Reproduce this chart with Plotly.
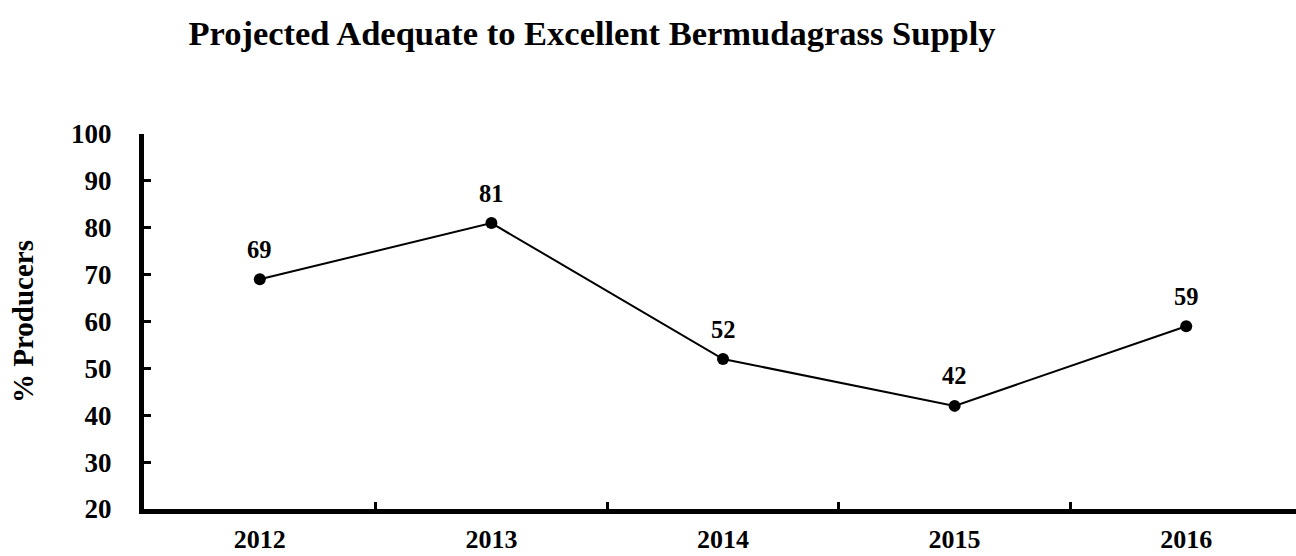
import plotly.graph_objects as go

years = ["2012", "2013", "2014", "2015", "2016"]
producers_pct = [69, 81, 52, 42, 59]
y_ticks = [20, 30, 40, 50, 60, 70, 80, 90, 100]

FONT = "Liberation Serif, Times New Roman, serif"

fig = go.Figure()
fig.add_trace(go.Scatter(
    x=years, y=producers_pct, mode="lines+markers",
    line=dict(color="black", width=2),
    marker=dict(color="black", size=12),
    hoverinfo="x+y", showlegend=False, cliponaxis=False,
))

for i, v in enumerate(producers_pct):
    fig.add_annotation(x=i, y=v, xref="x", yref="y", text=f"<b>{v}</b>", showarrow=False,
                       yshift=30, font=dict(family=FONT, size=24.5, color="black"))

fig.update_layout(
    width=1296, height=556,
    margin=dict(l=144, r=0, t=134, b=47),
    paper_bgcolor="white", plot_bgcolor="white",
    font=dict(family=FONT, color="black"),
    title=dict(text="<b>Projected Adequate to Excellent Bermudagrass Supply</b>",
               x=592/1296, xref="container", xanchor="center",
               y=1-33/556, yref="container", yanchor="middle",
               font=dict(family=FONT, size=34.5, color="black")),
)
fig.update_xaxes(
    type="category", range=[-0.5, 4.474], automargin=False,
    showline=True, linecolor="black", linewidth=5,
    ticks="inside", tickson="boundaries", ticklen=7, tickwidth=3, tickcolor="black",
    showgrid=False, zeroline=False,
    tickfont=dict(family=FONT, size=26, color="black", weight="bold"),
    ticklabelstandoff=3,
)
fig.update_yaxes(
    range=[20, 100], tickvals=y_ticks, automargin=False,
    showline=True, linecolor="black", linewidth=5,
    ticks="inside", ticklen=7, tickwidth=3, tickcolor="black",
    showgrid=False, zeroline=False,
    tickfont=dict(family=FONT, size=27, color="black", weight="bold"),
    ticklabelstandoff=22,
    title=dict(text="<b>% Producers</b>", standoff=30,
               font=dict(family=FONT, size=29, color="black")),
)

fig.write_html("out.html", config={"displayModeBar": False},
               post_script="document.body.style.margin='0';")
